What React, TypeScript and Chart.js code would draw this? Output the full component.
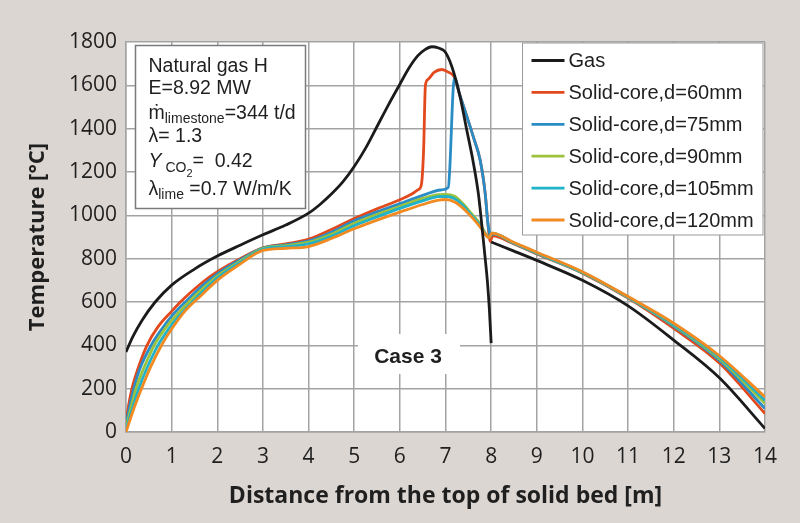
import React, { useEffect, useRef } from "react";
import { Chart, registerables } from "chart.js";

Chart.register(...registerables);

// ---------- data ----------
const xTickValues = [0, 1, 2, 3, 4, 5, 6, 7, 8, 9, 10, 11, 12, 13, 14];
const yTickValues = [0, 200, 400, 600, 800, 1000, 1200, 1400, 1600, 1800];

const seriesNames = [
  "Gas",
  "Solid-core,d=60mm",
  "Solid-core,d=75mm",
  "Solid-core,d=90mm",
  "Solid-core,d=105mm",
  "Solid-core,d=120mm",
];
const seriesColors = ["#1b1b1b", "#e2491d", "#2a8cc4", "#9cc23c", "#1fb2c9", "#f28a22"];

const gasDist = [0, 0.15, 0.35, 0.64, 1.0, 1.5, 2, 2.5, 3, 3.5, 4, 4.25, 4.5, 4.75, 5, 5.25, 5.5, 5.75, 6, 6.2, 6.4, 6.55, 6.7, 6.85, 6.99, 7.14, 7.32, 7.45, 7.6, 7.72, 7.8, 7.87, 7.92, 7.96, 8.0, 8.0, 8.0, 8.5, 9, 10, 11, 12, 13, 14];
const gasTemp = [369, 440, 515, 600, 678, 752, 812, 862, 910, 955, 1010, 1050, 1098, 1154, 1225, 1310, 1410, 1510, 1605, 1680, 1738, 1765, 1778, 1772, 1755, 1686, 1547, 1410, 1254, 1100, 946, 800, 690, 570, 410, null, 877, 835, 792, 700, 582, 424, 250, 16];

const d60Dist = [0, 0.05, 0.13, 0.25, 0.46, 0.7, 1.0, 1.19, 1.67, 2, 2.5, 3, 3.5, 4, 4.5, 5, 5.5, 6, 6.25, 6.4, 6.47, 6.52, 6.56, 6.62, 6.75, 6.92, 7.05, 7.2, 7.3, 7.47, 7.62, 7.76, 7.87, 7.93, 7.98, 8.03, 8.5, 9, 10, 11, 12, 13, 14];
const d60Temp = [39, 115, 200, 285, 400, 485, 557, 600, 690, 740, 800, 850, 868, 890, 935, 985, 1030, 1072, 1097, 1118, 1140, 1300, 1600, 1628, 1660, 1673, 1662, 1636, 1565, 1455, 1355, 1254, 1100, 960, 880, 905, 868, 822, 733, 618, 478, 318, 85];

const d75Dist = [0, 0.07, 0.17, 0.3, 0.55, 0.8, 1.0, 1.3, 1.67, 2, 2.5, 3, 3.5, 4, 4.5, 5, 5.5, 6, 6.5, 6.9, 7.06, 7.09, 7.17, 7.2, 7.3, 7.47, 7.62, 7.76, 7.87, 7.93, 7.97, 8.0, 8.03, 8.5, 9, 10, 11, 12, 13, 14];
const d75Temp = [30, 110, 200, 290, 400, 480, 535, 600, 675, 730, 795, 849, 864, 882, 922, 975, 1016, 1054, 1092, 1117, 1128, 1200, 1590, 1636, 1565, 1455, 1355, 1254, 1100, 960, 915, 908, 914, 870, 824, 735, 620, 488, 330, 108];

const d90Dist = [0, 0.1, 0.22, 0.4, 0.62, 0.85, 1.0, 1.4, 1.67, 2, 2.5, 3, 3.5, 4, 4.5, 5, 5.5, 6, 6.5, 6.85, 7.0, 7.2, 7.4, 7.54, 7.76, 7.88, 7.95, 8.02, 8.5, 9, 10, 11, 12, 13, 14];
const d90Temp = [20, 105, 200, 300, 400, 475, 515, 605, 660, 720, 788, 847, 860, 876, 913, 963, 1004, 1041, 1078, 1096, 1097, 1088, 1050, 1015, 960, 915, 898, 918, 872, 826, 736, 622, 492, 338, 132];

const d105Dist = [0, 0.12, 0.28, 0.47, 0.7, 0.9, 1.0, 1.5, 2, 2.5, 3, 3.5, 4, 4.5, 5, 5.5, 6, 6.5, 6.85, 7.0, 7.2, 7.4, 7.54, 7.76, 7.88, 7.95, 8.02, 8.5, 9, 10, 11, 12, 13, 14];
const d105Temp = [10, 95, 200, 300, 400, 465, 495, 610, 710, 782, 843, 855, 868, 903, 952, 993, 1032, 1067, 1086, 1087, 1077, 1042, 1008, 953, 912, 898, 918, 873, 827, 737, 623, 495, 345, 146];

const d120Dist = [0, 0.15, 0.35, 0.55, 0.79, 1.0, 1.3, 1.67, 2, 2.5, 3, 3.5, 4, 4.5, 5, 5.5, 6, 6.5, 6.85, 7.0, 7.2, 7.4, 7.54, 7.76, 7.88, 7.95, 8.02, 8.5, 9, 10, 11, 12, 13, 14];
const d120Temp = [0, 95, 205, 305, 405, 475, 560, 635, 700, 775, 838, 848, 856, 893, 938, 978, 1015, 1050, 1070, 1073, 1062, 1030, 1000, 946, 910, 897, 918, 875, 830, 740, 625, 502, 352, 162];

const seriesDist = [gasDist, d60Dist, d75Dist, d90Dist, d105Dist, d120Dist];
const seriesTemp = [gasTemp, d60Temp, d75Temp, d90Temp, d105Temp, d120Temp];
const drawOrder = [0, 5, 4, 3, 2, 1];

// ---------- style ----------
const BG = "#dcd6d2";
const GRID = "#a3a3a3";
const TEXT = "#1f1f1f";
const TICK_FONT = "'Open Sans', 'DejaVu Sans', sans-serif";
const ARIAL = "'Liberation Sans', Arial, sans-serif";

type Run = { t: string; size?: number; dy?: number; italic?: boolean };

const infoLines: Run[][] = [
  [{ t: "Natural gas H" }],
  [{ t: "E=8.92 MW" }],
  [{ t: "ṁ" }, { t: "limestone", size: 14, dy: 4 }, { t: "=344 t/d" }],
  [{ t: "λ= 1.3" }],
  [{ t: "Y", italic: true }, { t: " CO", size: 14, dy: 5 }, { t: "2", size: 11, dy: 10 }, { t: "=  0.42" }],
  [{ t: "λ" }, { t: "lime", size: 14, dy: 4 }, { t: " =0.7 W/m/K" }],
];
const infoBaselines = [71.7, 94.3, 119.3, 141.7, 166.7, 195];

const backgroundPlugin = {
  id: "bgPlugin",
  beforeDraw(chart: any) {
    const { ctx, width, height, chartArea: a } = chart;
    ctx.save();
    ctx.fillStyle = BG;
    ctx.fillRect(0, 0, width, height);
    ctx.fillStyle = "#ffffff";
    ctx.fillRect(a.left, a.top, a.right - a.left, a.bottom - a.top);
    ctx.restore();
  },
};

const overlayPlugin = {
  id: "overlayPlugin",
  afterDatasetsDraw(chart: any) {
    const { ctx, chartArea: a } = chart;
    ctx.save();

    // info box
    const bx = a.left + 9.5;
    const by = a.top + 3.5;
    ctx.fillStyle = "#ffffff";
    ctx.fillRect(bx, by, 170, 163);
    ctx.strokeStyle = "#7a7a7a";
    ctx.lineWidth = 1.5;
    ctx.strokeRect(bx, by, 170, 163);
    ctx.fillStyle = TEXT;
    ctx.textBaseline = "alphabetic";
    ctx.textAlign = "left";
    infoLines.forEach((runs, i) => {
      let x = bx + 13;
      const base = infoBaselines[i];
      runs.forEach((r) => {
        const size = r.size ?? 19.5;
        ctx.font = `${r.italic ? "italic " : ""}${size}px ${ARIAL}`;
        ctx.fillText(r.t, x, base + (r.dy ?? 0));
        x += ctx.measureText(r.t).width;
      });
    });

    // legend box
    const lx = 522.5;
    const ly = 43;
    const lw = 240.5;
    const lh = 192;
    ctx.fillStyle = "#ffffff";
    ctx.fillRect(lx, ly, lw, lh);
    ctx.strokeStyle = "#9a9a9a";
    ctx.lineWidth = 1;
    ctx.strokeRect(lx, ly, lw, lh);
    ctx.font = `20px ${ARIAL}`;
    ctx.textBaseline = "middle";
    seriesNames.forEach((name, i) => {
      const y = 60.5 + i * 31.9;
      ctx.strokeStyle = seriesColors[i];
      ctx.lineWidth = 2.8;
      ctx.beginPath();
      ctx.moveTo(lx + 9, y);
      ctx.lineTo(lx + 42, y);
      ctx.stroke();
      ctx.fillStyle = TEXT;
      ctx.fillText(name, lx + 46, y + 1);
    });

    // case label
    ctx.fillStyle = "#ffffff";
    ctx.fillRect(358, 334, 102, 40);
    ctx.fillStyle = TEXT;
    ctx.font = `bold 21px ${ARIAL}`;
    ctx.textAlign = "center";
    ctx.textBaseline = "alphabetic";
    ctx.fillText("Case 3", 408, 362.5);

    ctx.restore();
  },
};

export default function App() {
  const canvasRef = useRef<HTMLCanvasElement | null>(null);

  useEffect(() => {
    document.body.style.margin = "0";
    document.body.style.background = BG;
    const canvas = canvasRef.current;
    if (!canvas) return;

    const datasets = seriesNames.map((name, i) => ({
      label: name,
      data: seriesDist[i].map((x, j) => ({ x, y: seriesTemp[i][j] })),
      borderColor: seriesColors[i],
      backgroundColor: seriesColors[i],
      borderWidth: 2.8,
      pointRadius: 0,
      pointHoverRadius: 0,
      fill: false,
      cubicInterpolationMode: "monotone" as const,
      spanGaps: false,
      order: drawOrder[i],
    }));

    const chart = new Chart(canvas, {
      type: "line",
      data: { datasets },
      options: {
        animation: false,
        responsive: false,
        maintainAspectRatio: false,
        devicePixelRatio: window.devicePixelRatio || 1,
        layout: { padding: { top: 42, right: 35, left: 0, bottom: 0 } },
        plugins: {
          legend: { display: false },
          tooltip: { enabled: false },
          title: { display: false },
        },
        scales: {
          x: {
            type: "linear",
            min: 0,
            max: 14,
            afterBuildTicks: (s: any) => {
              s.ticks = xTickValues.map((v) => ({ value: v }));
            },
            afterFit: (s: any) => {
              s.height = 91;
            },
            ticks: {
              color: TEXT,
              font: { family: TICK_FONT, size: 21 },
              padding: 12,
              maxRotation: 0,
              autoSkip: false,
              callback: (v: any) => String(v),
            },
            grid: { color: GRID, lineWidth: 1.5, drawTicks: false },
            border: { color: GRID, width: 1.5 },
            title: {
              display: true,
              text: "Distance from the top of solid bed [m]",
              color: TEXT,
              font: { family: TICK_FONT, size: 23, weight: "bold" },
              padding: { top: 0, bottom: 13 },
            },
          },
          y: {
            type: "linear",
            min: 0,
            max: 1800,
            afterBuildTicks: (s: any) => {
              s.ticks = yTickValues.map((v) => ({ value: v }));
            },
            afterFit: (s: any) => {
              s.width = 126;
            },
            ticks: {
              color: TEXT,
              font: { family: TICK_FONT, size: 21 },
              padding: 9,
              autoSkip: false,
              callback: (v: any) => String(v),
            },
            grid: { color: GRID, lineWidth: 1.5, drawTicks: false },
            border: { color: GRID, width: 1.5 },
            title: {
              display: true,
              text: "Temperature [°C]",
              color: TEXT,
              font: { family: TICK_FONT, size: 22, weight: "bold" },
              padding: { top: 25, bottom: 0 },
            },
          },
        },
      },
      plugins: [backgroundPlugin, overlayPlugin],
    });

    return () => chart.destroy();
  }, []);

  return (
    <div style={{ width: 800, height: 523, background: BG }}>
      <canvas ref={canvasRef} width={800} height={523} style={{ width: 800, height: 523, display: "block" }} />
    </div>
  );
}
